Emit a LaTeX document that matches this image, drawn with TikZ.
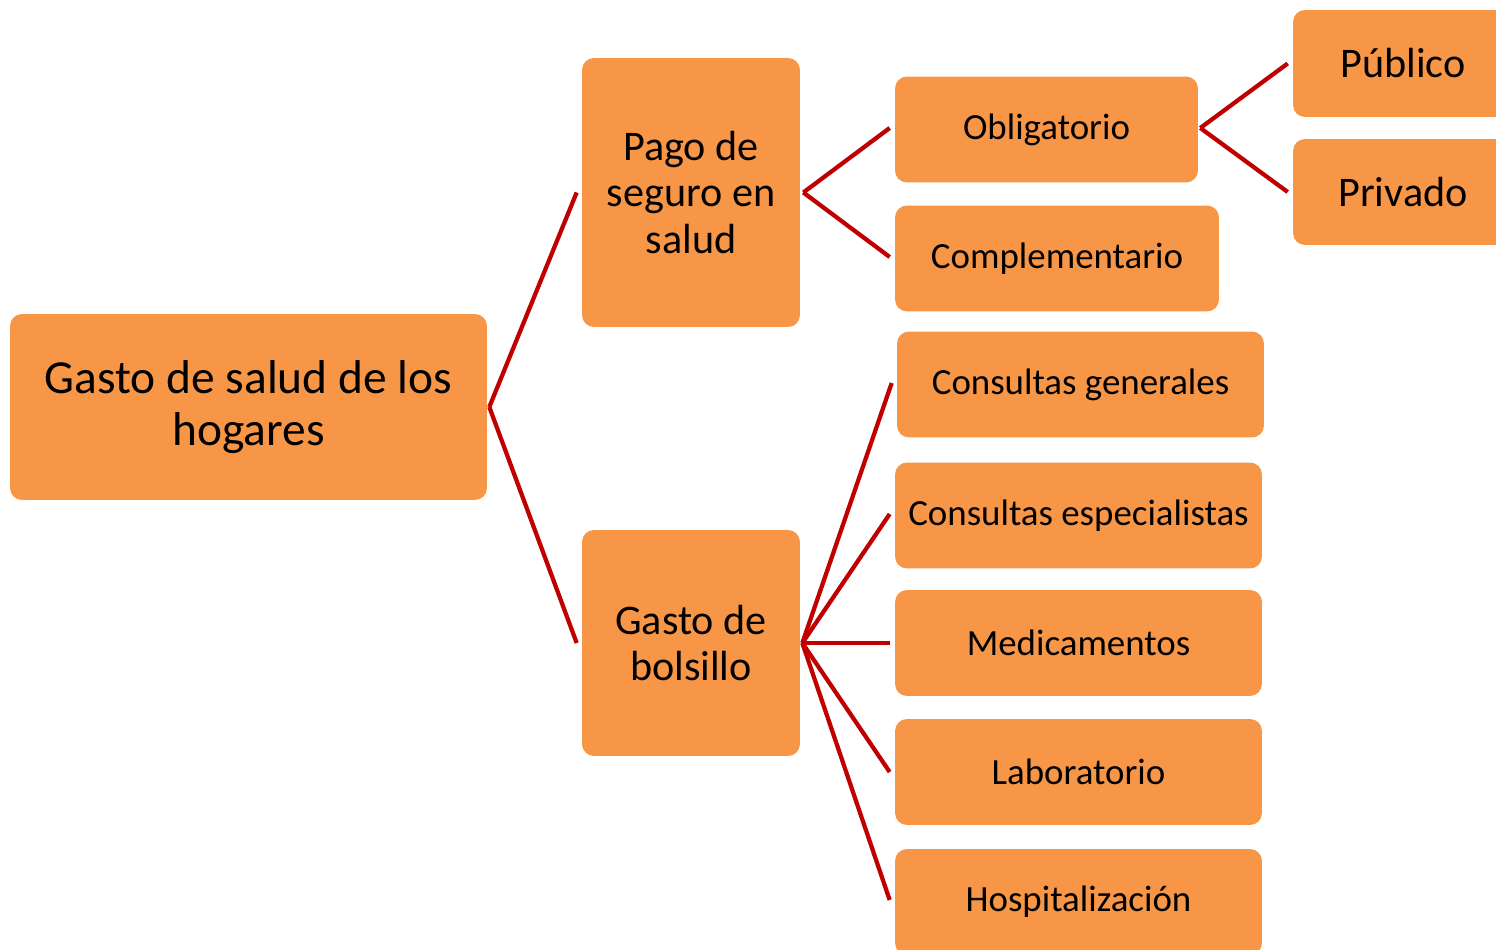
\documentclass[tikz,border=0pt]{standalone}
\usepackage{fontspec}
\setmainfont{Carlito}
\usetikzlibrary{calc}
\definecolor{boxorange}{HTML}{F79646}
\definecolor{linkred}{HTML}{C00000}
\begin{document}
\begin{tikzpicture}[x=0.02cm,y=-0.02cm,
  box/.style={fill=boxorange,rounded corners=0.24cm,inner sep=0pt,align=center,text=black},
  small/.style={box,minimum height=2.12cm,font=\fontsize{21}{24}\selectfont},
  link/.style={draw=linkred,line width=0.085cm}]
 \useasboundingbox (0,0) rectangle (1496,949);
 \clip (0,0) rectangle (1496,949);
 % first level
 \node[box,minimum width=9.54cm,minimum height=3.72cm,font=\fontsize{27}{29.6}\selectfont] (root) at (248.5,407) {Gasto de salud de los\\hogares};
 % second level
 \node[box,minimum width=4.36cm,minimum height=5.38cm,font=\fontsize{24}{26.2}\selectfont] (pago) at (691,192.5) {Pago de\\seguro en\\salud};
 \node[box,minimum width=4.36cm,minimum height=4.52cm,font=\fontsize{24}{26.5}\selectfont] (bolsillo) at (691,643) {Gasto de\\bolsillo};
 % third level
 \node[small,minimum width=6.06cm] (oblig) at (1046.5,129.5) {Obligatorio};
 \node[small,minimum width=6.48cm] (compl) at (1057,258.5) {Complementario};
 \node[small,minimum width=7.34cm] (cgen) at (1080.5,384.5) {Consultas generales};
 \node[small,minimum width=7.34cm] (cesp) at (1078.5,515.5) {Consultas especialistas};
 \node[small,minimum width=7.34cm] (medic) at (1078.5,643) {Medicamentos};
 \node[small,minimum width=7.34cm] (labor) at (1078.5,772) {Laboratorio};
 \node[small,minimum width=7.34cm] (hosp) at (1078.5,902) {Hospitalización};
 % fourth level
 \node[small,minimum width=4.4cm,minimum height=2.14cm,font=\fontsize{24}{26}\selectfont] (publico) at (1403,63.5) {Público};
 \node[small,minimum width=4.4cm,font=\fontsize{24}{26}\selectfont] (privado) at (1403,192) {Privado};
 % connectors
 \draw[link] ($(root.east)+(2,0)$) -- ($(pago.west)+(-5,0)$);
 \draw[link] ($(root.east)+(2,0)$) -- ($(bolsillo.west)+(-5,0)$);
 \draw[link] ($(pago.east)+(3,0)$) -- ($(oblig.west)+(-5,-1.5)$);
 \draw[link] ($(pago.east)+(3,0)$) -- ($(compl.west)+(-5,-1.5)$);
 \draw[link] ($(oblig.east)+(2,-1.5)$) -- ($(publico.west)+(-5,0)$);
 \draw[link] ($(oblig.east)+(2,-1.5)$) -- ($(privado.west)+(-5,0)$);
 \draw[link] ($(bolsillo.east)+(2,0)$) -- ($(cgen.west)+(-5,-1.5)$);
 \draw[link] ($(bolsillo.east)+(2,0)$) -- ($(cesp.west)+(-5,-1.5)$);
 \draw[link] ($(bolsillo.east)+(2,0)$) -- ($(medic.west)+(-5,0)$);
 \draw[link] ($(bolsillo.east)+(2,0)$) -- ($(labor.west)+(-5,0)$);
 \draw[link] ($(bolsillo.east)+(2,0)$) -- ($(hosp.west)+(-5,-2)$);
\end{tikzpicture}
\end{document}
